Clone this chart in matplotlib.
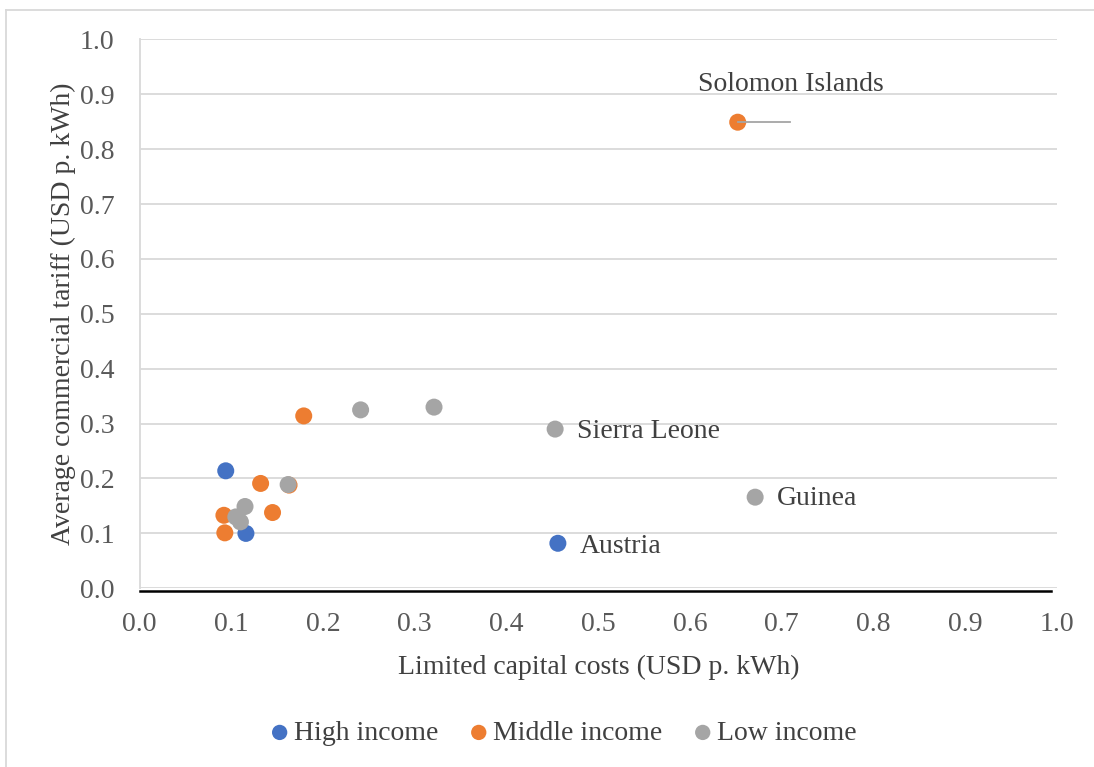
import matplotlib.pyplot as plt
from matplotlib.lines import Line2D

# limited capital costs (x) vs average commercial tariff (y), USD per kWh
high_x = [0.094, 0.116, 0.456]
high_y = [0.214, 0.100, 0.082]

mid_x = [0.179, 0.132, 0.163, 0.092, 0.093, 0.145, 0.652]
mid_y = [0.314, 0.191, 0.188, 0.133, 0.101, 0.138, 0.849]

low_x = [0.241, 0.321, 0.162, 0.115, 0.105, 0.110, 0.453, 0.671]
low_y = [0.325, 0.330, 0.189, 0.149, 0.130, 0.121, 0.290, 0.166]

ticks = [i / 10 for i in range(11)]

BLUE = '#4472C4'
ORANGE = '#ED7D31'
GREY = '#A5A5A5'
TXT = '#404040'
TICK_TXT = '#595959'

plt.rcParams['font.family'] = ['Liberation Serif', 'DejaVu Serif']

fig = plt.figure(figsize=(10.94, 7.67), dpi=100)
ax = fig.add_axes([139.5 / 1094, 1 - 588.3 / 767, 917.5 / 1094, 549 / 767])

ax.scatter(high_x, high_y, s=150, color=BLUE, edgecolors='none', zorder=3, label='High income')
ax.scatter(mid_x, mid_y, s=150, color=ORANGE, edgecolors='none', zorder=3, label='Middle income')
ax.scatter(low_x, low_y, s=150, color=GREY, edgecolors='none', zorder=3, label='Low income')

ax.set_xlim(0, 1.0)
ax.set_ylim(0, 1.0)
ax.set_xticks(ticks)
ax.set_yticks(ticks)
ax.set_xticklabels([f'{t:.1f}' for t in ticks])
ax.set_yticklabels([f'{t:.1f}' for t in ticks])
ax.tick_params(length=0, labelsize=20, labelcolor=TICK_TXT)
ax.tick_params(axis='x', pad=15)
ax.tick_params(axis='y', pad=18)

ax.grid(axis='y', color='#D9D9D9', linewidth=1.3)
ax.set_axisbelow(True)
for side in ['top', 'right']:
    ax.spines[side].set_visible(False)
ax.spines['left'].set_color('#D9D9D9')
ax.spines['left'].set_linewidth(1.3)
ax.spines['bottom'].set_color('black')
ax.spines['bottom'].set_linewidth(1.8)
ax.spines['bottom'].set_position(('outward', 2))
ax.spines['bottom'].set_bounds(0, 0.994)

ax.set_xlabel('Limited capital costs (USD p. kWh)', fontsize=20, color=TXT, labelpad=13)
ax.set_ylabel('Average commercial tariff (USD p. kWh)', fontsize=20, color=TXT, labelpad=3)

# country labels
lab = dict(textcoords='offset points', fontsize=20, color=TXT, va='center', ha='left')
ax.annotate('Sierra Leone', (low_x[6], low_y[6]), xytext=(16, -2), **lab)
ax.annotate('Guinea', (low_x[7], low_y[7]), xytext=(16, -1), **lab)
ax.annotate('Austria', (high_x[2], high_y[2]), xytext=(16, -2), **lab)

# Solomon Islands with leader line
sol_x, sol_y = mid_x[6], mid_y[6]
ax.plot([sol_x, sol_x + 0.057], [sol_y, sol_y], color=GREY, linewidth=1.3, zorder=4)
ax.annotate('Solomon Islands', (sol_x, sol_y), xytext=(38, 27),
            textcoords='offset points', fontsize=20, color=TXT, ha='center', va='center')

leg = fig.legend(loc='center', bbox_to_anchor=(561 / 1094, 1 - 733 / 767), ncol=3,
                 frameon=False, fontsize=20, handletextpad=0.0, columnspacing=0.97,
                 markerscale=0.9, labelcolor=TXT, handlelength=1.0)

# chart area border
fig.add_artist(Line2D([6 / 1094, 6 / 1094], [0, 1 - 10 / 767], transform=fig.transFigure,
                      color='#D9D9D9', linewidth=1.3))
fig.add_artist(Line2D([6 / 1094, 1], [1 - 10 / 767, 1 - 10 / 767], transform=fig.transFigure,
                      color='#D9D9D9', linewidth=1.3))

fig.savefig('out.png', dpi=100)
